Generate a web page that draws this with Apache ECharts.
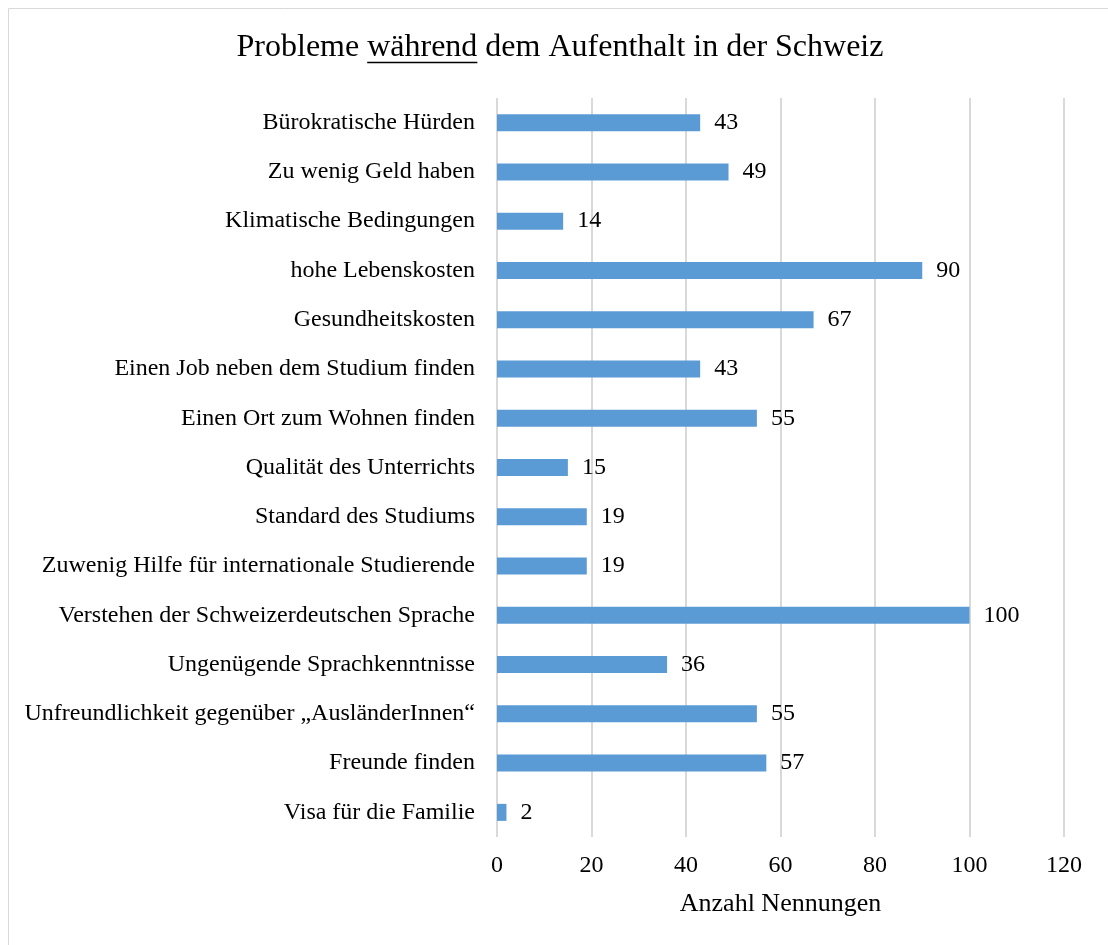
<!DOCTYPE html>
<html>
<head>
<meta charset="utf-8">
<script src="https://cdn.jsdelivr.net/npm/echarts@6/dist/echarts.min.js"></script>
<style>
  html, body { margin: 0; padding: 0; background: #fff; }
  #chart { width: 1108px; height: 945px; }
</style>
</head>
<body>
<div id="chart"></div>
<script>
// Problem categories, top to bottom
const categories = [
  'Bürokratische Hürden',
  'Zu wenig Geld haben',
  'Klimatische Bedingungen',
  'hohe Lebenskosten',
  'Gesundheitskosten',
  'Einen Job neben dem Studium finden',
  'Einen Ort zum Wohnen finden',
  'Qualität des Unterrichts',
  'Standard des Studiums',
  'Zuwenig Hilfe für internationale Studierende',
  'Verstehen der Schweizerdeutschen Sprache',
  'Ungenügende Sprachkenntnisse',
  'Unfreundlichkeit gegenüber „AusländerInnen“',
  'Freunde finden',
  'Visa für die Familie'
];
// Number of mentions per category
const counts = [43, 49, 14, 90, 67, 43, 55, 15, 19, 19, 100, 36, 55, 57, 2];
const xTicks = [0, 20, 40, 60, 80, 100, 120];

const titleParts = ['Probleme ', 'während', ' dem Aufenthalt in der Schweiz'];
const axisTitle = 'Anzahl Nennungen';

const SERIF = '"Liberation Serif", "Times New Roman", serif';
const TITLE_SIZE = 32;
const LABEL_SIZE = 24;

// measure title pieces to place the underline beneath the middle word
const ctx = document.createElement('canvas').getContext('2d');
ctx.font = TITLE_SIZE + 'px ' + SERIF;
const w0 = ctx.measureText(titleParts[0]).width;
const w1 = ctx.measureText(titleParts[1]).width;
const wAll = ctx.measureText(titleParts.join('')).width;
const titleCx = 560;
const titleY = 48;
const startX = titleCx - wAll / 2;

const chart = echarts.init(document.getElementById('chart'), null, { renderer: 'canvas' });

chart.setOption({
  backgroundColor: '#fff',
  animation: false,
  textStyle: { fontFamily: SERIF },
  graphic: [
    {
      type: 'rect',
      shape: { x: 8.5, y: 8.5, width: 1200, height: 1000 },
      style: { fill: null, stroke: '#d9d9d9', lineWidth: 1 },
      silent: true
    },
    {
      type: 'text',
      x: titleCx,
      y: titleY,
      style: {
        text: titleParts.join(''),
        font: TITLE_SIZE + 'px ' + SERIF,
        fill: '#000',
        align: 'center',
        verticalAlign: 'middle'
      }
    },
    {
      type: 'line',
      shape: { x1: startX + w0, y1: titleY + 14.5, x2: startX + w0 + w1, y2: titleY + 14.5 },
      style: { stroke: '#000', lineWidth: 1.6 }
    }
  ],
  grid: { left: 497, right: 44, top: 98, bottom: 108, containLabel: false },
  xAxis: {
    type: 'value',
    min: xTicks[0],
    max: xTicks[xTicks.length - 1],
    interval: xTicks[1] - xTicks[0],
    name: axisTitle,
    nameLocation: 'middle',
    nameGap: 54,
    nameTextStyle: { fontSize: 26, color: '#000', fontFamily: SERIF },
    axisLine: { show: false },
    axisTick: { show: false },
    axisLabel: { fontSize: LABEL_SIZE, color: '#000', margin: 17, fontFamily: SERIF },
    splitLine: { show: true, lineStyle: { color: '#d9d9d9', width: 2 } }
  },
  yAxis: {
    type: 'category',
    data: categories,
    inverse: true,
    axisLine: { show: false },
    axisTick: { show: false },
    axisLabel: {
      fontSize: LABEL_SIZE, color: '#000', margin: 22, fontFamily: SERIF,
      padding: [4, 0, 0, 0]
    },
    splitLine: { show: false }
  },
  series: [{
    type: 'bar',
    data: counts,
    barWidth: 17,
    itemStyle: { color: '#5b9bd5' },
    label: {
      show: true,
      position: 'right',
      distance: 14,
      fontSize: LABEL_SIZE,
      color: '#000',
      fontFamily: SERIF,
      padding: [4, 0, 0, 0]
    }
  }]
});
</script>
</body>
</html>
